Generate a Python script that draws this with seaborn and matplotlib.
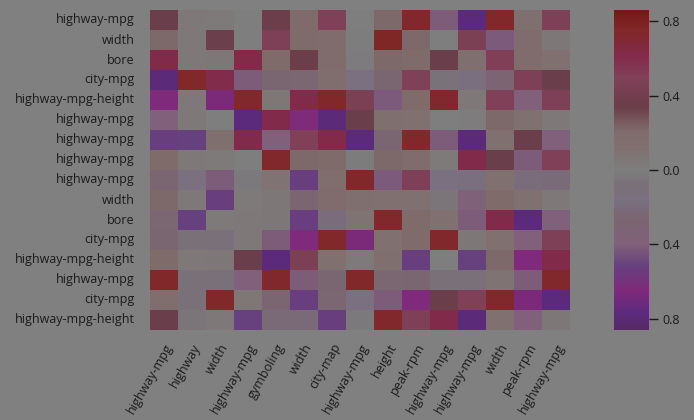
import numpy as np
import pandas as pd
import matplotlib
matplotlib.use("Agg")
import matplotlib.pyplot as plt
from matplotlib.colors import LinearSegmentedColormap
from matplotlib.ticker import FixedLocator, FuncFormatter
import seaborn as sns

row_labels = ["highway-mpg", "width", "bore", "city-mpg", "highway-mpg-height",
              "highway-mpg", "highway-mpg", "highway-mpg", "highway-mpg", "width",
              "bore", "city-mpg", "highway-mpg-height", "highway-mpg", "city-mpg",
              "highway-mpg-height"]
col_labels = ["highway-mpg", "highway", "width", "highway-mpg", "gymboling", "width",
              "city-map", "highway-mpg", "height", "peak-rpm", "highway-mpg",
              "highway-mpg", "width", "peak-rpm", "highway-mpg"]

values = [
    [0.34, 0.05, 0.04, 0.0, 0.35, 0.21, 0.5, 0.0, 0.22, 0.74, -0.41, -0.77, 0.75, 0.13, 0.49],
    [0.22, 0.05, 0.33, 0.0, 0.49, 0.21, 0.2, 0.01, 0.76, 0.22, 0.0, 0.47, -0.42, 0.2, 0.06],
    [0.62, 0.05, 0.06, 0.63, 0.21, 0.35, 0.2, -0.02, 0.22, 0.21, 0.34, 0.13, 0.51, 0.2, 0.12],
    [-0.78, 0.75, 0.61, -0.41, -0.26, -0.25, 0.19, -0.16, -0.26, 0.5, -0.07, -0.17, -0.3, 0.49, 0.34],
    [-0.65, 0.05, -0.66, 0.74, 0.07, 0.62, 0.75, 0.47, -0.42, 0.21, 0.73, 0.05, 0.5, -0.4, 0.48],
    [-0.39, 0.05, 0.0, -0.77, 0.62, -0.64, -0.78, 0.34, 0.13, 0.12, 0.0, 0.02, 0.22, 0.12, 0.05],
    [-0.53, -0.52, 0.13, 0.62, -0.39, 0.5, 0.63, -0.77, -0.26, 0.75, -0.41, -0.78, 0.12, 0.34, -0.4],
    [0.21, 0.05, 0.03, 0.0, 0.74, 0.22, 0.21, -0.01, 0.22, 0.2, 0.03, 0.62, 0.34, -0.41, 0.5],
    [-0.26, -0.15, -0.41, -0.03, 0.1, -0.53, 0.19, 0.75, -0.42, 0.49, -0.16, -0.17, 0.12, -0.2, -0.21],
    [0.22, 0.05, -0.53, 0.04, 0.06, -0.27, 0.2, 0.15, 0.12, 0.12, -0.05, -0.38, 0.21, 0.12, 0.05],
    [-0.25, -0.52, 0.04, 0.05, 0.06, -0.53, -0.2, 0.1, 0.74, 0.21, 0.12, -0.41, 0.62, -0.77, -0.4],
    [-0.26, -0.08, -0.09, 0.05, -0.41, -0.65, 0.75, -0.66, 0.12, 0.21, 0.74, 0.06, 0.12, -0.4, 0.49],
    [0.21, 0.05, 0.06, 0.34, -0.77, 0.47, 0.12, 0.04, 0.13, -0.53, 0.0, -0.52, 0.22, -0.65, 0.62],
    [0.75, -0.08, -0.09, -0.4, 0.74, -0.41, -0.26, 0.75, -0.25, -0.26, -0.08, -0.09, 0.1, -0.41, 0.74],
    [0.19, -0.08, 0.75, 0.07, -0.26, -0.53, -0.25, -0.16, -0.41, -0.65, 0.34, 0.5, 0.74, -0.66, -0.77],
    [0.34, -0.05, 0.05, -0.52, -0.22, -0.22, -0.53, -0.03, 0.74, 0.48, 0.62, -0.78, 0.12, -0.4, 0.06],
]

cbar_ticks = [-0.8, -0.4, 0.0, 0.4, 0.8]
vlim = 0.86

# colormap anchors (value, colour)
anchor_vals = [-0.86, -0.77, -0.65, -0.52, -0.40, -0.26, -0.16, -0.08, 0.0,
               0.05, 0.12, 0.21, 0.34, 0.50, 0.62, 0.75, 0.86]
anchor_cols = ["#552a62", "#5c2a7e", "#7f2a7a", "#66407e", "#80607a", "#7a6670",
               "#7a7080", "#7a7078", "#7e7e7e", "#7e7878", "#807070", "#806c6c",
               "#6a3e4a", "#804058", "#822a4a", "#80282a", "#781818"]
cmap = LinearSegmentedColormap.from_list(
    "custom", [((v + vlim) / (2 * vlim), c) for v, c in zip(anchor_vals, anchor_cols)])

df = pd.DataFrame(values, index=row_labels, columns=col_labels)

sns.set_theme(style="white")
plt.rcParams['font.family'] = ['Open Sans', 'DejaVu Sans']
text_col = "#1a1a1a"

fig = plt.figure(figsize=(6.94, 4.20), dpi=100)
fig.patch.set_facecolor("#808080")
ax = fig.add_axes([150 / 694, 90 / 420, 420 / 694, 320 / 420])
cax = fig.add_axes([614 / 694, 90 / 420, 35 / 694, 320 / 420])

sns.heatmap(df, ax=ax, cbar_ax=cax, cmap=cmap, vmin=-vlim, vmax=vlim,
            linewidths=0, cbar_kws={"ticks": cbar_ticks})

ax.set_yticks(np.arange(len(row_labels)) + 0.5)
ax.set_yticklabels(row_labels, rotation=0, fontsize=9, color=text_col)
ax.set_xticks(np.arange(len(col_labels)) + 0.5)
ax.set_xticklabels(col_labels, rotation=60, ha="right", rotation_mode="anchor",
                   fontsize=9, color=text_col)
ax.tick_params(axis="both", length=0)
ax.tick_params(axis="y", pad=11)
ax.tick_params(axis="x", pad=8)

cbar = ax.collections[0].colorbar
cbar.outline.set_visible(False)
cbar.ax.yaxis.set_major_formatter(FuncFormatter(lambda v, p: f"{abs(v):.1f}"))
cbar.ax.tick_params(length=6.5, width=1, color=text_col, labelcolor=text_col,
                    labelsize=9, pad=3)

fig.savefig("out.png", dpi=100, facecolor=fig.get_facecolor())
